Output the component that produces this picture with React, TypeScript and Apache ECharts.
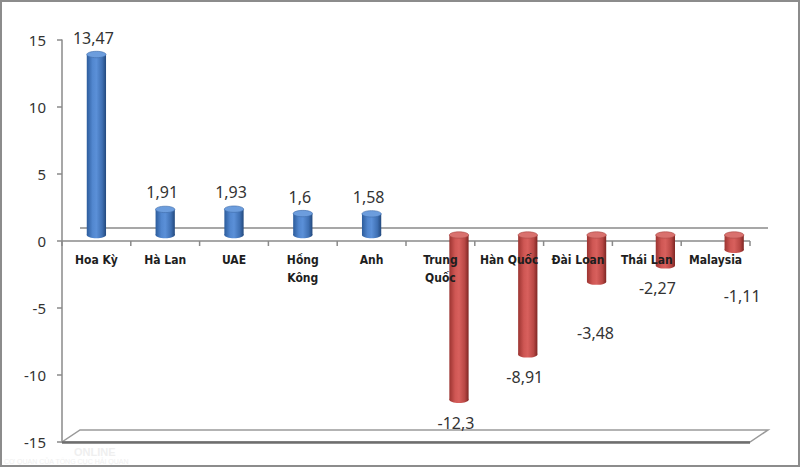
import React, { useEffect, useRef } from "react";
import * as echarts from "echarts";

// ---- data ----
const categories = ["Hoa Kỳ", "Hà Lan", "UAE", "Hồng Kông", "Anh", "Trung Quốc", "Hàn Quốc", "Đài Loan", "Thái Lan", "Malaysia"];
const values = [13.47, 1.91, 1.93, 1.6, 1.58, -12.3, -8.91, -3.48, -2.27, -1.11];
const wrapped = ["Hồng Kông", "Trung Quốc"];
const yMin = -15;
const yMax = 15;
const yStep = 5;

// ---- style / layout ----
const BAR_W_RATIO = 0.28;
const NEG_SHIFT_RATIO = 0.27;
const BAR_SHIFT_Y = 6;
const DEPTH_X = 18;
const DEPTH_Y = 12;
const CAT_LABEL_GAP = 10;
const LABEL_DX = [-3, -3, -3, -3, -3, -3, -3, -1, -8, 8];
const LABEL_DY = [0, 0, 0, 0, 0, 0, 0, 28, 0, 23];
const AXIS_COLOR = "#8a8a8a";

const blueSide = () =>
  new echarts.graphic.LinearGradient(0, 0, 1, 0, [
    { offset: 0, color: "#2c5c9c" },
    { offset: 0.3, color: "#5287cf" },
    { offset: 0.5, color: "#5b90d8" },
    { offset: 0.8, color: "#3f70b3" },
    { offset: 1, color: "#23497d" },
  ]);
const redSide = () =>
  new echarts.graphic.LinearGradient(0, 0, 1, 0, [
    { offset: 0, color: "#9c3431" },
    { offset: 0.3, color: "#cf5754" },
    { offset: 0.5, color: "#d8605d" },
    { offset: 0.8, color: "#b84744" },
    { offset: 1, color: "#7e2623" },
  ]);

export default function App() {
  const ref = useRef<HTMLDivElement>(null);
  useEffect(() => {
    document.body.style.margin = "0";
    const chart = echarts.init(ref.current!, null, { renderer: "svg" });
    const fmt = (v: number) => String(v).replace(".", ",");
    const catText = (c: string) => (wrapped.includes(c) ? c.replace(" ", "\n") : c);

    const option: any = {
      animation: false,
      backgroundColor: "#ffffff",
      grid: { left: 62, right: 50, top: 40, bottom: 25, containLabel: false, outerBoundsMode: "none" },
      xAxis: {
        type: "category",
        data: categories,
        axisLine: { show: false },
        axisTick: { show: false },
        axisLabel: { show: false },
        splitLine: { show: false },
      },
      yAxis: {
        type: "value",
        min: yMin,
        max: yMax,
        interval: yStep,
        axisLine: { show: true, lineStyle: { color: AXIS_COLOR, width: 1.5 } },
        axisTick: { show: true, length: 5, lineStyle: { color: AXIS_COLOR, width: 1.5 } },
        axisLabel: { margin: 16, fontSize: 15, fontFamily: '"Noto Sans", sans-serif', color: "#333" },
        splitLine: { show: false },
      },
      graphic: [
        {
          type: "rect",
          shape: { x: 1, y: 1, width: 798, height: 465 },
          style: { fill: "none", stroke: "#8c8c8c", lineWidth: 2 },
          z: 10,
        },
        {
          type: "text",
          x: 74,
          y: 446,
          style: { text: "ONLINE", fill: "#efefef", fontSize: 11, fontWeight: "bold", fontFamily: '"Liberation Sans", sans-serif' },
          z: 0,
        },
        {
          type: "text",
          x: 4,
          y: 458,
          style: { text: "CƠ QUAN CỦA TỔNG CỤC HẢI QUAN", fill: "#f0f0f0", fontSize: 7, fontFamily: '"Liberation Sans", sans-serif' },
          z: 0,
        },
      ],
      series: [
        {
          type: "custom",
          z: 1,
          silent: true,
          data: [[0, 0]],
          renderItem: (params: any, api: any) => {
            const cs = params.coordSys;
            const x = cs.x, y = cs.y, w = cs.width, h = cs.height;
            const yb = y + h;
            const y0 = api.coord([0, 0])[1];
            const n = categories.length;
            const children: any[] = [
              {
                type: "polygon",
                shape: { points: [[x, yb], [x + w, yb], [x + w + DEPTH_X, yb - DEPTH_Y], [x + DEPTH_X, yb - DEPTH_Y]] },
                style: { fill: "#ffffff", stroke: "#9a9a9a", lineWidth: 1.5 },
              },
              {
                type: "line",
                shape: { x1: x, y1: yb + 0.5, x2: x + w, y2: yb + 0.5 },
                style: { stroke: "#6e6e6e", lineWidth: 2.5 },
              },
              {
                type: "line",
                shape: { x1: x + DEPTH_X, y1: y0 - DEPTH_Y - 1, x2: x + w + DEPTH_X, y2: y0 - DEPTH_Y - 1 },
                style: { stroke: AXIS_COLOR, lineWidth: 1.5 },
              },
              {
                type: "line",
                shape: { x1: x, y1: y0, x2: x + w, y2: y0 },
                style: { stroke: AXIS_COLOR, lineWidth: 1.5 },
              },
            ];
            for (let k = 0; k <= n; k++) {
              const tx = x + (w * k) / n;
              children.push({
                type: "line",
                shape: { x1: tx, y1: y0, x2: tx, y2: y0 + 5 },
                style: { stroke: AXIS_COLOR, lineWidth: 1.5 },
              });
            }
            return { type: "group", children };
          },
        },
        {
          type: "custom",
          z: 2,
          silent: true,
          data: values.map((v, i) => [i, v]),
          encode: { x: 0, y: 1 },
          renderItem: (params: any, api: any) => {
            const i = api.value(0);
            const v = api.value(1);
            const band = api.size([1, 0])[0];
            const bw = band * BAR_W_RATIO;
            const neg = v < 0;
            const base = api.coord([i, 0]);
            const end = api.coord([i, v]);
            const cx = base[0] + (neg ? band * NEG_SHIFT_RATIO : 0);
            const y0 = base[1] - BAR_SHIFT_Y;
            const y1 = end[1] - BAR_SHIFT_Y;
            const top = Math.min(y0, y1);
            const bot = Math.max(y0, y1);
            const ry = 3.2;
            const side = neg ? redSide() : blueSide();
            const cap = neg ? "#d9716e" : "#6c9ddd";
            const capStroke = neg ? "#a84441" : "#3d6aa8";
            const labelY = neg ? end[1] + 17 + LABEL_DY[i] : end[1] - 23 + LABEL_DY[i];
            return {
              type: "group",
              children: [
                { type: "ellipse", shape: { cx, cy: bot, rx: bw / 2, ry }, style: { fill: side } },
                { type: "rect", shape: { x: cx - bw / 2, y: top, width: bw, height: bot - top }, style: { fill: side } },
                { type: "ellipse", shape: { cx, cy: top, rx: bw / 2, ry }, style: { fill: cap, stroke: capStroke, lineWidth: 0.6 } },
                {
                  type: "text",
                  x: cx + LABEL_DX[i],
                  y: labelY,
                  z2: 10,
                  style: {
                    text: fmt(v),
                    fill: "#333",
                    fontSize: 16,
                    fontFamily: '"Noto Sans", sans-serif',
                    align: "center",
                    verticalAlign: "middle",
                  },
                },
                {
                  type: "text",
                  x: base[0],
                  y: base[1] + CAT_LABEL_GAP,
                  z2: 20,
                  style: {
                    text: catText(categories[i]),
                    fill: "#1e1e1e",
                    fontSize: 12,
                    fontWeight: "bold",
                    lineHeight: 18,
                    fontFamily: '"DejaVu Sans Condensed", "Liberation Sans", sans-serif',
                    align: "center",
                    verticalAlign: "top",
                  },
                },
              ],
            };
          },
        },
      ],
    };
    chart.setOption(option);
    return () => chart.dispose();
  }, []);
  return <div ref={ref} style={{ width: 800, height: 467 }} />;
}
